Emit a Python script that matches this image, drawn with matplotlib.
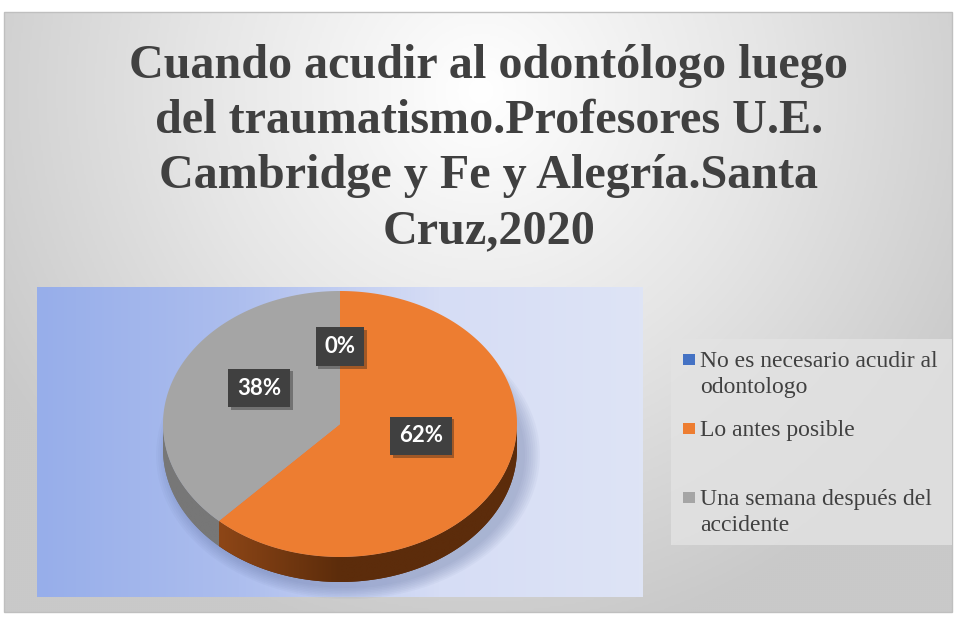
import numpy as np
import matplotlib
matplotlib.use("Agg")
import matplotlib.pyplot as plt
from matplotlib.patches import Polygon, Rectangle
from matplotlib.colors import LinearSegmentedColormap
import matplotlib.patheffects as pe

# data
categories = ["No es necesario acudir al\nodontologo", "Lo antes posible",
              "Una semana después del\naccidente"]
values = [0, 62, 38]
colors = ["#4472c4", "#ed7d31", "#a5a5a5"]
side_colors = [("#3a62a8", "#1f3864"), ("#a4521c", "#5c2c0b"), ("#8e8e8e", "#777777")]
title = ("Cuando acudir al odontólogo luego\ndel traumatismo.Profesores U.E.\n"
         "Cambridge y Fe y Alegría.Santa\nCruz,2020")

W, H = 956, 619
fig = plt.figure(figsize=(W / 100, H / 100), dpi=100)
ax = fig.add_axes([0, 0, 1, 1])

def gradient(ax, extent, arr, cmap, clip=None, z=0):
    im = ax.imshow(arr, cmap=cmap, extent=extent, aspect='auto',
                   interpolation='bilinear', zorder=z)
    if clip is not None:
        im.set_clip_path(clip)
    return im

# chart area background (radial grey)
yy, xx = np.mgrid[12:612:2, 4:952:2]
r = np.sqrt(((xx - 480) / 560.0) ** 2 + ((yy - 90) / 560.0) ** 2)
bgmap = LinearSegmentedColormap.from_list('bg', ['#ffffff', '#e6e6e6', '#c9c9c9'])
gradient(ax, [4, 952, 612, 12], np.clip(r, 0, 1), bgmap, z=0)
ax.add_patch(Rectangle((4, 12), 948, 600, fill=False, ec='#bfbfbf', lw=1, zorder=1))

# plot area (linear blue)
pmap = LinearSegmentedColormap.from_list('pa', ['#97aeea', '#adbeee', '#d6ddf5', '#dee4f5'])
gradient(ax, [37, 643, 597, 287], np.linspace(0, 1, 200)[None, :], pmap, z=1)

# 3d pie
cx, cy, rx, ry, depth = 340, 424, 177, 133, 25
frac = np.array(values, float) / sum(values)
edges = np.concatenate([[0], np.cumsum(frac)]) * 2 * np.pi

def pt(t, dy=0):
    return np.column_stack([cx + rx * np.sin(t), cy - ry * np.cos(t) + dy])

# soft shadow
for k in range(8):
    s = 1 + 0.012 * k
    t = np.linspace(0, 2 * np.pi, 200)
    ax.add_patch(Polygon(np.column_stack([cx + 8 + rx * s * np.sin(t),
                                          cy + depth + 6 - ry * s * np.cos(t)]),
                         closed=True, fc='#5a6a9a', ec='none', alpha=0.05, zorder=2))

# sides (front half only)
for i in range(len(values)):
    a0, a1 = max(edges[i], np.pi / 2), min(edges[i + 1], 3 * np.pi / 2)
    if a1 <= a0:
        continue
    t = np.linspace(a0, a1, 100)
    poly = np.vstack([pt(t), pt(t[::-1], depth)])
    p = Polygon(poly, closed=True, fc=side_colors[i][1], ec='none', zorder=3)
    ax.add_patch(p)
    smap = LinearSegmentedColormap.from_list('s%d' % i, [side_colors[i][0], side_colors[i][1],
                                                         side_colors[i][1]])
    gradient(ax, [cx - rx, cx + rx, cy + ry + depth, cy - 5],
             np.linspace(1, 0, 200)[None, :] if i == 2 else np.linspace(0, 1, 200)[None, :],
             smap, clip=p, z=3)

# top
for i in range(len(values)):
    if frac[i] == 0:
        continue
    t = np.linspace(edges[i], edges[i + 1], 200)
    poly = np.vstack([[cx, cy], pt(t)])
    ax.add_patch(Polygon(poly, closed=True, fc=colors[i], ec='none', zorder=4))

# data labels
for i in range(len(values)):
    mid = (edges[i] + edges[i + 1]) / 2
    x = cx + 0.49 * rx * np.sin(mid)
    y = cy - 0.49 * ry * np.cos(mid) - 12
    txt = ax.text(x, y, '%d%%' % round(frac[i] * 100), ha='center', va='center',
                  color='white', fontsize=16, fontweight='bold', family='Lato', zorder=6,
                  bbox=dict(boxstyle='square,pad=0.4', fc='#404040', ec='none'))
    txt.get_bbox_patch().set_path_effects([pe.SimplePatchShadow(offset=(2, -2), alpha=0.35),
                                           pe.Normal()])

# title, one line at a time
for k, line in enumerate(title.split('\n')):
    ax.text(489, 78 + 55 * k, line, ha='center', va='baseline', fontsize=34.7,
            fontweight='bold', family='Liberation Serif', color='#404040', zorder=5)

# legend
ax.add_patch(Rectangle((671, 339), 281, 206, fc='#e3e3e3', ec='none', alpha=0.8, zorder=2))
leg_y = [367, 436, 505]
for lab, col, y in zip(categories, colors, leg_y):
    ax.add_patch(Rectangle((683, y - 13), 12, 11, fc=col, ec='none', zorder=5))
    for k, line in enumerate(lab.split('\n')):
        ax.text(700, y + 26 * k, line, ha='left', va='baseline', fontsize=17,
                family='Liberation Serif', color='#404040', zorder=5)

ax.set_xlim(0, W)
ax.set_ylim(H, 0)
ax.axis('off')
fig.savefig('out.png', dpi=100, facecolor='white')
